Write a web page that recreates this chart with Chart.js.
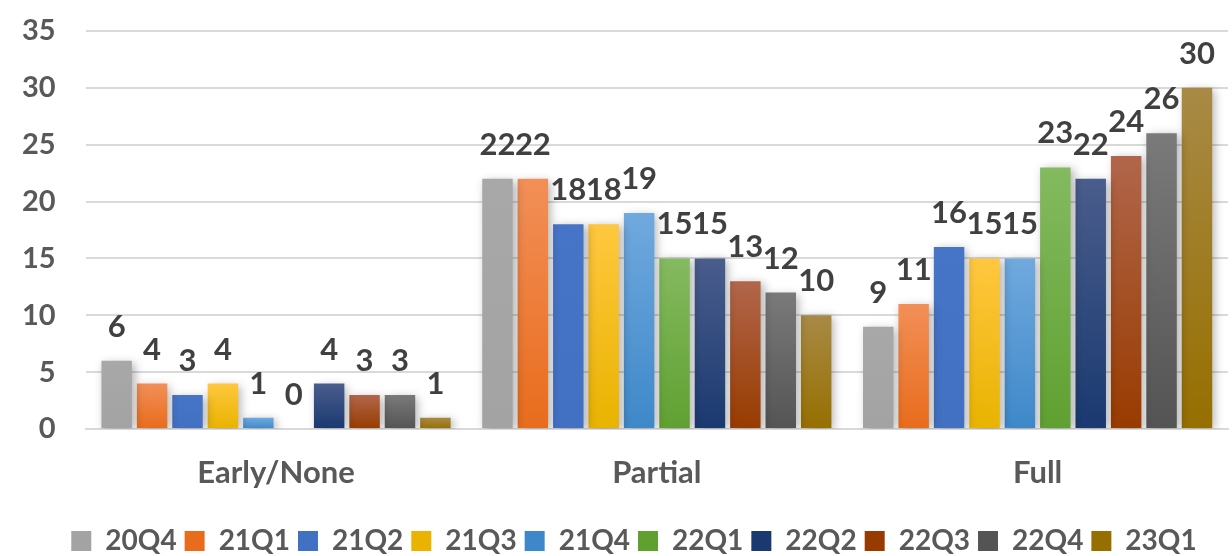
<!DOCTYPE html>
<html>
<head>
<meta charset="utf-8">
<script src="https://cdn.jsdelivr.net/npm/chart.js@4/dist/chart.umd.min.js"></script>
<style>
  html, body { margin: 0; padding: 0; background: #fff; }
  #wrap { width: 1232px; height: 556px; }
</style>
</head>
<body>
<div id="wrap"><canvas id="grafico" width="1232" height="556"></canvas></div>
<script>
const categorias = ["Early/None", "Partial", "Full"];
const trimestres = ["20Q4", "21Q1", "21Q2", "21Q3", "21Q4", "22Q1", "22Q2", "22Q3", "22Q4", "23Q1"];

// valores por trimestre: [Early/None, Partial, Full]
const v20Q4 = [6, 22, 9];
const v21Q1 = [4, 22, 11];
const v21Q2 = [3, 18, 16];
const v21Q3 = [4, 18, 15];
const v21Q4 = [1, 19, 15];
const v22Q1 = [0, 15, 23];
const v22Q2 = [4, 15, 22];
const v22Q3 = [3, 13, 24];
const v22Q4 = [3, 12, 26];
const v23Q1 = [1, 10, 30];

const ticksY = [0, 5, 10, 15, 20, 25, 30, 35];

// colores: [arriba, abajo] para el degradado de cada barra
const colores = [
  ["#a8a8a8", "#a3a3a3"],
  ["#f28f58", "#e86c1c"],
  ["#4674c6", "#4270c2"],
  ["#ffc73f", "#e9b300"],
  ["#70a9de", "#3e88c9"],
  ["#84ba60", "#60a031"],
  ["#4a5d8c", "#1a3970"],
  ["#b1664b", "#983b00"],
  ["#7a7a7a", "#545454"],
  ["#a88a46", "#966f00"]
];

const valores = [v20Q4, v21Q1, v21Q2, v21Q3, v21Q4, v22Q1, v22Q2, v22Q3, v22Q4, v23Q1];
const fuente = "Lato, 'Open Sans', sans-serif";

function degradado(ctx, i) {
  const chart = ctx.chart;
  const y = chart.scales && chart.scales.y;
  if (!chart.chartArea || !y || ctx.type !== "data") return colores[i][1];
  const top = y.getPixelForValue(ctx.raw);
  const base = y.getPixelForValue(0);
  if (base - top < 1) return colores[i][1];
  const g = chart.ctx.createLinearGradient(0, top, 0, base);
  g.addColorStop(0, colores[i][0]);
  g.addColorStop(1, colores[i][1]);
  return g;
}

// sombra suave bajo las barras
const sombra = {
  id: "sombra",
  beforeDatasetDraw(chart) {
    const c = chart.ctx;
    c.save();
    c.shadowColor = "rgba(0,0,0,0.3)";
    c.shadowBlur = 9;
    c.shadowOffsetX = 3;
    c.shadowOffsetY = 2;
  },
  afterDatasetDraw(chart) {
    chart.ctx.restore();
  }
};

// etiqueta con el valor encima de cada barra
const etiquetas = {
  id: "etiquetas",
  afterDatasetsDraw(chart) {
    const c = chart.ctx;
    c.save();
    c.font = "bold 31px " + fuente;
    c.fillStyle = "#404040";
    c.textAlign = "center";
    c.textBaseline = "alphabetic";
    chart.data.datasets.forEach((ds, i) => {
      chart.getDatasetMeta(i).data.forEach((bar, j) => {
        c.fillText(String(ds.data[j]), bar.x, bar.y - 24);
      });
    });
    c.restore();
  }
};

// la leyenda va un poco a la derecha del centro
const moverLeyenda = {
  id: "moverLeyenda",
  afterLayout(chart) {
    chart.legend.left += 24;
    chart.legend.right += 24;
  }
};

const datasets = trimestres.map((t, i) => ({
  label: t,
  data: valores[i],
  backgroundColor: ctx => degradado(ctx, i),
  borderWidth: 0,
  barPercentage: 0.86,
  categoryPercentage: 0.93
}));

new Chart(document.getElementById("grafico"), {
  type: "bar",
  data: { labels: categorias, datasets },
  plugins: [sombra, etiquetas, moverLeyenda],
  options: {
    responsive: false,
    animation: false,
    layout: { padding: { left: -8, right: 4, top: 31, bottom: -9 } },
    plugins: {
      tooltip: { enabled: false },
      legend: {
        position: "bottom",
        labels: {
          boxWidth: 20,
          boxHeight: 20,
          padding: 8,
          color: "#595959",
          font: { family: fuente, size: 28, weight: "bold" },
          generateLabels(chart) {
            return chart.data.datasets.map((ds, i) => ({
              text: ds.label,
              fillStyle: colores[i][1],
              strokeStyle: colores[i][1],
              lineWidth: 0,
              fontColor: "#595959",
              datasetIndex: i
            }));
          }
        }
      }
    },
    scales: {
      x: {
        grid: { display: false },
        border: { display: true, color: "#d9d9d9", width: 2 },
        ticks: { color: "#595959", padding: 17, font: { family: fuente, size: 31, weight: "bold" } },
        afterFit(axis) { axis.height = 90; }
      },
      y: {
        min: 0,
        max: 35,
        afterBuildTicks(axis) { axis.ticks = ticksY.map(v => ({ value: v })); },
        afterFit(axis) { axis.paddingTop = 0; axis.paddingBottom = 0; },
        grid: { color: "#d9d9d9", lineWidth: 2, drawTicks: false },
        border: { display: false },
        ticks: { color: "#595959", padding: 30, font: { family: fuente, size: 29, weight: "bold" } }
      }
    }
  }
});
</script>
</body>
</html>
